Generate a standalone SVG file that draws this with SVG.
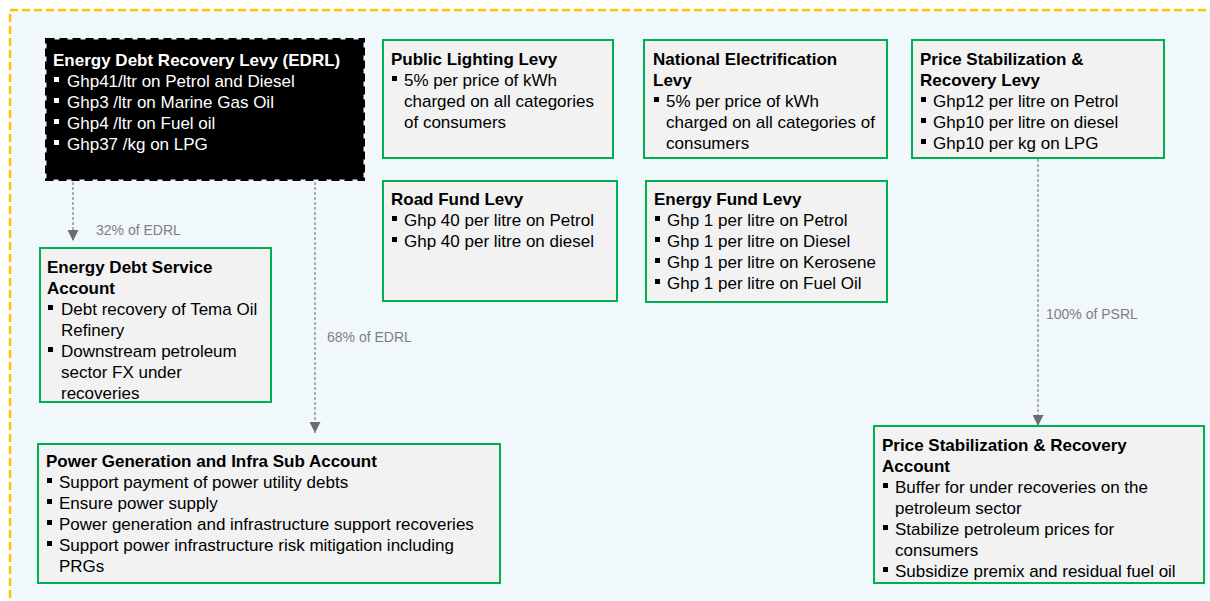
<svg xmlns="http://www.w3.org/2000/svg" width="1210" height="601" viewBox="0 0 1210 601">
<defs>
<style>
.bg{fill:#F1F8FB;stroke:#FFC000;stroke-width:2.5;stroke-dasharray:8 4}
.box{fill:#F2F2F2;stroke:#00B050;stroke-width:2}
.dark{fill:#000000;stroke:#000000;stroke-width:3;stroke-dasharray:8 5}
text{font-family:"Liberation Sans",Arial,sans-serif;font-size:17px;fill:#000000}
.t{font-weight:bold}
.w{fill:#FFFFFF}
.b{fill:#000000}
.bw{fill:#FFFFFF}
.lbl{font-size:14px;fill:#7F7F7F}
.con{stroke:#7F7F7F;stroke-width:1.2;stroke-dasharray:3 2;fill:none}
</style>
<marker id="ah" viewBox="0 0 10 10" refX="10" refY="5" markerWidth="11" markerHeight="11" markerUnits="userSpaceOnUse" orient="auto">
<path d="M0,0 L10,5 L0,10 z" fill="#6D6D6D"/>
</marker>
</defs>
<rect x="0" y="0" width="1210" height="601" fill="#FFFFFF"/>
<rect class="bg" x="10" y="10" width="1230" height="630"/>

<g id="connectors">
<line class="con" x1="73" y1="182" x2="73" y2="241" marker-end="url(#ah)"/>
<line class="con" x1="315" y1="182" x2="315" y2="433" marker-end="url(#ah)"/>
<line class="con" x1="1038" y1="159" x2="1038" y2="426" marker-end="url(#ah)"/>
<text class="lbl" x="96" y="235">32% of EDRL</text>
<text class="lbl" x="327" y="342">68% of EDRL</text>
<text class="lbl" x="1046" y="319">100% of PSRL</text>
</g>

<g id="edrl">
<rect class="dark" x="46.5" y="39.5" width="317" height="140"/>
<text class="t w" x="53" y="66">Energy Debt Recovery Levy (EDRL)</text>
<rect class="bw" x="54" y="77" width="5" height="5"/>
<text class="w" x="67" y="87">Ghp41/ltr on Petrol and Diesel</text>
<rect class="bw" x="54" y="98" width="5" height="5"/>
<text class="w" x="67" y="108">Ghp3 /ltr on Marine Gas Oil</text>
<rect class="bw" x="54" y="119" width="5" height="5"/>
<text class="w" x="67" y="129">Ghp4 /ltr on Fuel oil</text>
<rect class="bw" x="54" y="140" width="5" height="5"/>
<text class="w" x="67" y="150">Ghp37 /kg on LPG</text>
</g>

<g id="public-lighting">
<rect class="box" x="383" y="40" width="230" height="118"/>
<text class="t" x="391" y="65">Public Lighting Levy</text>
<rect class="b" x="392" y="76" width="5" height="5"/>
<text x="404" y="86">5% per price of kWh</text>
<text x="404" y="107">charged on all categories</text>
<text x="404" y="128">of consumers</text>
</g>

<g id="road-fund">
<rect class="box" x="383" y="181" width="234" height="120"/>
<text class="t" x="391" y="205">Road Fund Levy</text>
<rect class="b" x="392" y="216" width="5" height="5"/>
<text x="404" y="226">Ghp 40 per litre on Petrol</text>
<rect class="b" x="392" y="237" width="5" height="5"/>
<text x="404" y="247">Ghp 40 per litre on diesel</text>
</g>

<g id="national-electrification">
<rect class="box" x="644" y="40" width="243" height="118"/>
<text class="t" x="653" y="65">National Electrification</text>
<text class="t" x="653" y="86">Levy</text>
<rect class="b" x="654" y="97" width="5" height="5"/>
<text x="666" y="107">5% per price of kWh</text>
<text x="666" y="128">charged on all categories of</text>
<text x="666" y="149">consumers</text>
</g>

<g id="energy-fund">
<rect class="box" x="646" y="181" width="241" height="121"/>
<text class="t" x="654" y="205">Energy Fund Levy</text>
<rect class="b" x="655" y="216" width="5" height="5"/>
<text x="667" y="226">Ghp 1 per litre on Petrol</text>
<rect class="b" x="655" y="237" width="5" height="5"/>
<text x="667" y="247">Ghp 1 per litre on Diesel</text>
<rect class="b" x="655" y="258" width="5" height="5"/>
<text x="667" y="268">Ghp 1 per litre on Kerosene</text>
<rect class="b" x="655" y="279" width="5" height="5"/>
<text x="667" y="289">Ghp 1 per litre on Fuel Oil</text>
</g>

<g id="psrl">
<rect class="box" x="912" y="40" width="252" height="118"/>
<text class="t" x="920" y="65">Price Stabilization &amp;</text>
<text class="t" x="920" y="86">Recovery Levy</text>
<rect class="b" x="921" y="97" width="5" height="5"/>
<text x="933" y="107">Ghp12 per litre on Petrol</text>
<rect class="b" x="921" y="118" width="5" height="5"/>
<text x="933" y="128">Ghp10 per litre on diesel</text>
<rect class="b" x="921" y="139" width="5" height="5"/>
<text x="933" y="149">Ghp10 per kg on LPG</text>
</g>

<g id="energy-debt-service">
<rect class="box" x="40" y="248" width="231" height="154"/>
<text class="t" x="47" y="273">Energy Debt Service</text>
<text class="t" x="47" y="294">Account</text>
<rect class="b" x="48" y="305" width="5" height="5"/>
<text x="61" y="315">Debt recovery of Tema Oil</text>
<text x="61" y="336">Refinery</text>
<rect class="b" x="48" y="347" width="5" height="5"/>
<text x="61" y="357">Downstream petroleum</text>
<text x="61" y="378">sector FX under</text>
<text x="61" y="399">recoveries</text>
</g>

<g id="power-generation">
<rect class="box" x="38" y="444" width="462" height="139"/>
<text class="t" x="46" y="467">Power Generation and Infra Sub Account</text>
<rect class="b" x="47" y="478" width="5" height="5"/>
<text x="59" y="488">Support payment of power utility debts</text>
<rect class="b" x="47" y="499" width="5" height="5"/>
<text x="59" y="509">Ensure power supply</text>
<rect class="b" x="47" y="520" width="5" height="5"/>
<text x="59" y="530">Power generation and infrastructure support recoveries</text>
<rect class="b" x="47" y="541" width="5" height="5"/>
<text x="59" y="551">Support power infrastructure risk mitigation including</text>
<text x="59" y="572">PRGs</text>
</g>

<g id="psr-account">
<rect class="box" x="874" y="426" width="330" height="157"/>
<text class="t" x="882" y="451">Price Stabilization &amp; Recovery</text>
<text class="t" x="882" y="472">Account</text>
<rect class="b" x="883" y="483" width="5" height="5"/>
<text x="895" y="493">Buffer for under recoveries on the</text>
<text x="895" y="514">petroleum sector</text>
<rect class="b" x="883" y="525" width="5" height="5"/>
<text x="895" y="535">Stabilize petroleum prices for</text>
<text x="895" y="556">consumers</text>
<rect class="b" x="883" y="567" width="5" height="5"/>
<text x="895" y="577">Subsidize premix and residual fuel oil</text>
</g>
</svg>
